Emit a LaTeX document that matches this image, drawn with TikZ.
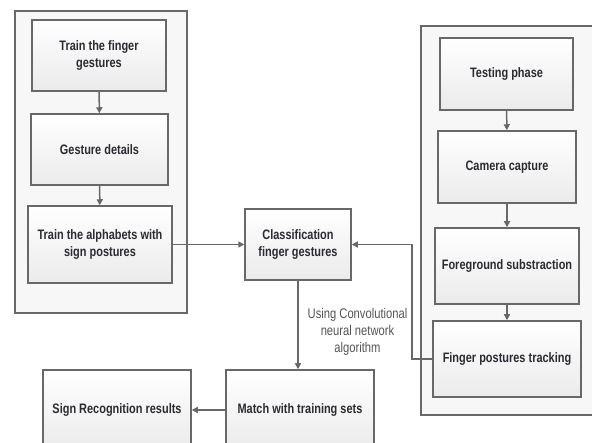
\documentclass[tikz,border=0pt]{standalone}
\usepackage{fontspec}
\setmainfont{Liberation Sans}[FakeStretch=0.8]
\usetikzlibrary{arrows.meta}
\definecolor{edge}{HTML}{686868}
\definecolor{txt}{HTML}{2B2B33}
\definecolor{lbl}{HTML}{555555}
\tikzset{
  stepbox/.style={draw=edge, line width=1.5pt, top color=white, bottom color=black!8,
    shading angle=0, align=center, font=\fontsize{13.7}{17.5}\selectfont\bfseries, text=txt,
    inner sep=0pt},
  group/.style={draw=edge, line width=1.5pt, fill=black!3},
  conn/.style={draw=edge, line width=1.5pt, -{Triangle[length=6pt,width=6pt]}},
}
\begin{document}
\begin{tikzpicture}[x=1pt,y=-1pt]
\useasboundingbox (0,0) rectangle (592,443);
\clip (0,0) rectangle (592,443);
\fill[white] (0,0) rectangle (592,443);
% containers
\draw[group] (15,11) rectangle (187,313);
\draw[group] (421,26) rectangle (600,415);
% left column
\node[stepbox, minimum width=134pt, minimum height=71pt] (b1) at (99,55.5) {Train the finger\\gestures};
\node[stepbox, minimum width=137pt, minimum height=71pt] (b2) at (99.5,149.5) {Gesture details};
\node[stepbox, minimum width=144pt, minimum height=77pt] (b3) at (100,244.5) {Train the alphabets with\\sign postures};
% center
\node[stepbox, minimum width=106pt, minimum height=71pt] (cls) at (298,244.5) {Classification\\finger gestures};
\node[stepbox, minimum width=148pt, minimum height=80pt] (match) at (300,410) {Match with training sets};
\node[stepbox, minimum width=148pt, minimum height=80pt] (sign) at (117,410) {Sign Recognition results};
% right column
\node[stepbox, minimum width=133pt, minimum height=72pt] (t1) at (506.5,74) {Testing phase};
\node[stepbox, minimum width=138pt, minimum height=72pt] (t2) at (507,167) {Camera capture};
\node[stepbox, minimum width=144pt, minimum height=76pt] (t3) at (507,266) {Foreground substraction};
\node[stepbox, minimum width=148pt, minimum height=76pt] (t4) at (507,359) {Finger postures tracking};
% label
\node[align=center, text=lbl, font=\fontsize{14}{17}\selectfont] (lab) at (357.5,332) {Using Convolutional\\neural network\\algorithm};
% connectors
\draw[conn] (b1) -- (b2);
\draw[conn] (b2) -- (b3);
\draw[conn] (b3.east) -- (cls.west);
\draw[conn] (t1) -- (t2);
\draw[conn] (t2) -- (t3);
\draw[conn] (t3) -- (t4);
\coordinate (bend) at (412,0);
\draw[conn] (t4.west) -- (bend |- t4.west) -- (bend |- cls.east) -- (cls.east);
\draw[conn] (cls.south) -- (match.north -| cls.south);
\draw[conn] (match.west) -- (sign.east);
\end{tikzpicture}
\end{document}
